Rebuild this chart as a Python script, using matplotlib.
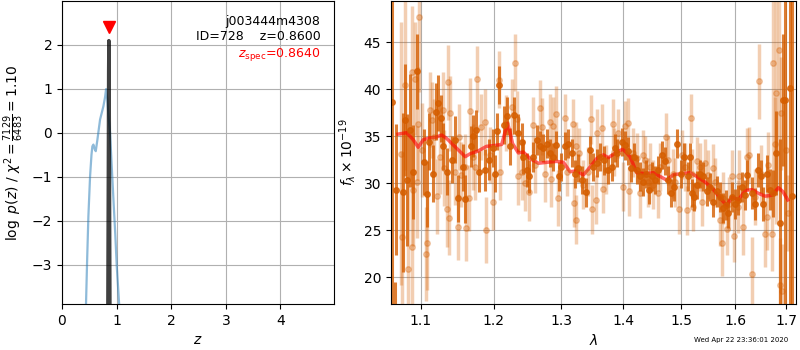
import matplotlib
matplotlib.use('Agg')
import matplotlib.pyplot as plt
from matplotlib.ticker import NullLocator
import numpy as np

# redshift probability curves
z_grid = [0.43, 0.44, 0.46, 0.483, 0.514, 0.54, 0.556, 0.575, 0.60, 0.618, 0.648,
          0.697, 0.758, 0.79, 0.807, 0.83, 0.85, 0.88, 0.91, 0.942, 0.975, 1.003, 1.046, 1.06]
logpz = [-4.5, -3.87, -2.9, -1.9, -0.99, -0.5, -0.31, -0.27, -0.38, -0.42, -0.16,
         0.30, 0.60, 0.82, 0.99, 0.75, 0.40, 0.0, -0.75, -1.52, -2.3, -3.04, -3.89, -4.3]
z_fine = [0.838, 0.848, 0.854, 0.8585, 0.863, 0.869, 0.879]
logpz_fine = [-4.5, -1.0, 1.4, 2.09, 1.4, -1.0, -4.5]
z_spec = 0.864
z_best = 0.86

# 1D spectrum, two sets of points
wave_dark = [1.0625, 1.0660, 1.0676, 1.0762, 1.0792, 1.0814, 1.0857, 1.0900, 1.0952, 1.1040,
             1.1083, 1.1110, 1.1155, 1.1195, 1.1230, 1.1265, 1.1296, 1.1342, 1.1410, 1.1455,
             1.1492, 1.1561, 1.1597, 1.1676, 1.1700, 1.1746, 1.1792, 1.1873, 1.1934, 1.1992,
             1.2016, 1.2045, 1.2078, 1.2142, 1.2190, 1.2233, 1.2292, 1.2355, 1.2405, 1.2428,
             1.2478, 1.2517, 1.2578, 1.2629, 1.2679, 1.2729, 1.2781, 1.2830, 1.2881, 1.2922,
             1.2974, 1.2996, 1.3063, 1.3115, 1.3168, 1.3220, 1.3272, 1.3326, 1.3394, 1.3458,
             1.3511, 1.3565, 1.3619, 1.3684, 1.3754, 1.3810, 1.3865, 1.3903, 1.3976, 1.4031,
             1.4086, 1.4126, 1.4182, 1.4228, 1.4283, 1.4330, 1.4387, 1.4444, 1.4486, 1.4543,
             1.4601, 1.4660, 1.4718, 1.4777, 1.4824, 1.4877, 1.4936, 1.4995, 1.5060, 1.5132,
             1.5170, 1.5200, 1.5235, 1.5295, 1.5345, 1.5406, 1.5468, 1.5530, 1.5592, 1.5655,
             1.5716, 1.5779, 1.5830, 1.5873, 1.5937, 1.6000, 1.6063, 1.6128, 1.6192, 1.6237,
             1.6322, 1.6387, 1.6451, 1.6498, 1.6550, 1.6628, 1.6682, 1.6748, 1.6802, 1.6880,
             1.6930, 1.6985, 1.7087, 1.7125]
flux_dark = [38.6, 14.0, 29.3, 29.0, 36.7, 30.3, 35.6, 31.2, 41.9, 32.2,
             28.8, 34.4, 31.0, 37.6, 38.5, 36.9, 33.9, 31.2, 32.5, 34.6,
             28.4, 31.7, 28.3, 33.9, 35.0, 35.6, 31.2, 31.4, 32.5, 33.7,
             31.0, 35.5, 40.4, 36.2, 37.1, 33.9, 37.2, 35.3, 34.4, 32.8,
             31.4, 30.7, 32.8, 34.6, 33.9, 33.7, 34.2, 33.2, 32.8, 34.0,
             30.7, 31.7, 33.9, 34.2, 33.2, 31.0, 31.6, 30.3, 29.0, 33.5,
             31.7, 32.1, 32.8, 32.4, 31.4, 31.7, 33.7, 33.2, 34.4, 34.0,
             33.4, 31.6, 32.8, 31.4, 30.7, 30.1, 31.0, 29.3, 30.7, 30.3,
             31.4, 33.0, 32.3, 30.3, 28.9, 29.6, 34.2, 31.0, 32.8, 30.7,
             32.8, 28.9, 28.5, 29.8, 31.0, 30.7, 29.1, 29.6, 28.0, 29.1,
             28.5, 27.3, 27.7, 26.8, 28.5, 27.8, 28.2, 29.6, 28.7, 30.9,
             28.9, 27.8, 31.4, 30.7, 27.8, 31.0, 29.3, 28.9, 33.2, 25.7,
             38.8, 38.8, 40.1, 28.6]
err_dark = [25.0, 5.5, 7.0, 8.5, 6.0, 7.0, 6.0, 5.0, 4.0, 3.5,
            3.5, 3.0, 3.0, 3.0, 3.0, 2.5, 2.5, 2.5, 2.5, 2.5,
            2.5, 2.5, 2.5, 2.2, 2.2, 2.2, 2.2, 2.2, 2.2, 2.0,
            2.0, 2.0, 2.0, 2.0, 2.0, 2.0, 2.0, 2.0, 2.0, 1.8,
            1.8, 1.8, 1.6, 1.6, 1.6, 1.5, 1.5, 1.5, 1.5, 1.5,
            1.5, 1.5, 1.5, 1.5, 1.5, 1.5, 1.5, 1.5, 1.5, 1.5,
            1.5, 1.5, 1.5, 1.5, 1.5, 1.5, 1.5, 1.5, 1.5, 1.5,
            1.5, 1.5, 1.5, 1.5, 1.5, 1.5, 1.5, 1.5, 1.5, 1.5,
            1.5, 1.5, 1.5, 1.5, 1.5, 1.5, 1.5, 1.5, 1.5, 1.5,
            1.5, 1.5, 1.5, 1.5, 1.5, 1.5, 1.5, 1.5, 1.6, 1.6,
            1.6, 1.6, 1.6, 1.6, 1.6, 1.6, 1.6, 1.6, 1.6, 1.6,
            1.7, 1.7, 1.8, 1.8, 1.8, 2.0, 2.2, 2.5, 4.5, 9.0,
            7.0, 22.0, 30.0, 28.0]

wave_light = [1.0740, 1.0752, 1.0792, 1.0835, 1.0879, 1.0887, 1.0900, 1.0922, 1.0944, 1.0965,
              1.0977, 1.1009, 1.1061, 1.1083, 1.1119, 1.1141, 1.1172, 1.1208, 1.1252, 1.1296,
              1.1310, 1.1342, 1.1364, 1.1378, 1.1387, 1.1455, 1.1500, 1.1513, 1.1536, 1.1597,
              1.1614, 1.1650, 1.1660, 1.1709, 1.1733, 1.1761, 1.1823, 1.1872, 1.1888, 1.1944,
              1.1982, 1.2078, 1.2088, 1.2175, 1.2258, 1.2308, 1.2331, 1.2355, 1.2405, 1.2453,
              1.2517, 1.2570, 1.2604, 1.2679, 1.2704, 1.2755, 1.2830, 1.2845, 1.2871, 1.2922,
              1.2958, 1.3063, 1.3099, 1.3185, 1.3200, 1.3228, 1.3242, 1.3288, 1.3342, 1.3432,
              1.3468, 1.3482, 1.3554, 1.3575, 1.3646, 1.3672, 1.3716, 1.3835, 1.3846, 1.3916,
              1.3998, 1.4031, 1.4086, 1.4103, 1.4170, 1.4228, 1.4283, 1.4330, 1.4369, 1.4426,
              1.4456, 1.4513, 1.4601, 1.4630, 1.4735, 1.4777, 1.4853, 1.4894, 1.4971, 1.5013,
              1.5072, 1.5113, 1.5182, 1.5200, 1.5223, 1.5285, 1.5345, 1.5375, 1.5437, 1.5499,
              1.5580, 1.5623, 1.5716, 1.5748, 1.5779, 1.5843, 1.5892, 1.5937, 1.5987, 1.6063,
              1.6082, 1.6160, 1.6225, 1.6276, 1.6328, 1.6387, 1.6465, 1.6504, 1.6570, 1.6617,
              1.6649, 1.6728, 1.6748, 1.6782, 1.6796, 1.6868, 1.6880, 1.6902, 1.6916, 1.7000,
              1.7039]
flux_light = [33.1, 24.3, 40.4, 20.9, 41.8, 23.2, 29.3, 41.1, 30.1, 36.3,
              47.7, 33.5, 22.4, 23.6, 37.8, 36.7, 34.9, 28.6, 32.8, 37.8,
              31.6, 27.2, 40.7, 26.3, 37.4, 31.2, 25.3, 34.9, 30.9, 31.7,
              25.2, 28.4, 37.7, 32.8, 31.7, 41.1, 36.0, 36.5, 25.0, 33.0,
              28.0, 41.0, 31.2, 36.4, 38.1, 42.8, 36.8, 30.7, 31.2, 30.0,
              29.0, 36.2, 31.9, 38.0, 36.0, 31.0, 36.5, 30.4, 36.1, 37.3,
              28.4, 36.9, 31.2, 36.3, 27.9, 33.9, 26.1, 33.2, 29.8, 31.2,
              36.8, 27.2, 28.2, 35.3, 35.8, 29.4, 31.4, 36.3, 33.3, 35.3,
              29.6, 36.1, 36.4, 29.1, 33.2, 32.7, 28.9, 33.0, 32.4, 30.1,
              31.7, 29.8, 28.9, 31.7, 34.9, 32.4, 31.0, 30.1, 27.2, 33.0,
              31.7, 27.1, 36.9, 31.0, 27.5, 32.3, 31.7, 28.0, 32.1, 30.9,
              31.6, 30.1, 26.1, 23.6, 28.4, 25.1, 27.8, 30.7, 24.4, 27.5,
              30.7, 25.3, 32.8, 33.0, 20.3, 28.5, 40.8, 31.0, 24.6, 26.4,
              31.9, 24.6, 42.8, 34.1, 39.6, 44.2, 19.2, 37.4, 18.5, 33.5,
              26.8]
err_light = [14.0, 9.0, 9.0, 9.0, 7.0, 8.0, 6.0, 6.0, 6.0, 6.0,
             8.0, 5.0, 5.0, 5.0, 4.0, 4.0, 4.0, 4.0, 4.0, 4.0,
             4.0, 4.0, 4.0, 4.0, 4.0, 3.5, 3.5, 3.5, 3.5, 3.5,
             3.5, 3.5, 3.5, 3.5, 3.5, 3.5, 3.5, 3.5, 3.5, 3.0,
             3.0, 3.0, 3.0, 3.0, 3.0, 3.0, 3.0, 3.0, 3.0, 3.0,
             3.0, 3.0, 3.0, 3.0, 3.0, 3.0, 3.0, 3.0, 3.0, 3.0,
             3.0, 2.6, 2.6, 2.6, 2.6, 2.6, 2.6, 2.6, 2.6, 2.6,
             2.6, 2.6, 2.6, 2.6, 2.6, 2.6, 2.6, 2.6, 2.6, 2.6,
             2.6, 2.6, 2.6, 2.6, 2.6, 2.6, 2.6, 2.6, 2.6, 2.6,
             2.6, 2.6, 2.6, 2.6, 2.6, 2.6, 2.6, 2.6, 2.6, 2.6,
             2.6, 2.6, 2.6, 2.6, 2.6, 2.6, 2.6, 2.6, 2.6, 2.6,
             2.6, 2.6, 2.8, 3.5, 2.8, 2.8, 2.8, 2.8, 2.8, 2.8,
             2.8, 3.0, 3.0, 3.0, 4.0, 3.0, 4.0, 3.0, 3.5, 3.5,
             3.5, 4.0, 14.0, 5.0, 14.0, 15.0, 5.0, 6.0, 5.0, 5.0,
             4.0]

# best-fit model
wave_model = [1.0702, 1.0814, 1.0900, 1.0965, 1.1030, 1.1119, 1.1208, 1.1276, 1.1342, 1.1478,
              1.1597, 1.1662, 1.1775, 1.1894, 1.2016, 1.2112, 1.2160, 1.2197, 1.2230, 1.2270,
              1.2355, 1.2428, 1.2528, 1.2654, 1.2781, 1.2933, 1.3037, 1.3141, 1.3246, 1.3350,
              1.3458, 1.3565, 1.3672, 1.3754, 1.3893, 1.3998, 1.4115, 1.4228, 1.4369, 1.4513,
              1.4630, 1.4748, 1.4865, 1.5042, 1.5163, 1.5285, 1.5437, 1.5592, 1.5716, 1.5843,
              1.5937, 1.6063, 1.6192, 1.6322, 1.6451, 1.6583, 1.6715, 1.6848, 1.6935, 1.7037]
flux_model = [35.2, 35.35, 34.6, 33.8, 34.6, 34.8, 34.9, 35.1, 34.75, 33.7,
              32.8, 33.1, 33.4, 33.9, 34.0, 34.1, 35.4, 36.35, 35.5, 34.2,
              33.2, 33.3, 32.6, 32.1, 32.2, 32.3, 32.2, 31.2, 31.3, 30.85,
              31.7, 32.6, 33.0, 32.7, 33.3, 33.6, 32.8, 31.1, 31.0, 31.1,
              30.7, 30.3, 30.9, 31.0, 31.1, 30.7, 30.1, 29.3, 28.4, 27.6,
              28.5, 28.2, 29.2, 29.3, 28.9, 28.6, 28.7, 29.5, 29.1, 28.2]

spec_color = (0.835, 0.369, 0.0)

fig = plt.figure(figsize=(8, 3.5), dpi=100)
ax1 = fig.add_axes([0.0775, 0.1314, 0.34, 0.8657])
ax2 = fig.add_axes([0.4887, 0.1314, 0.5063, 0.8657])

# p(z) panel
ax1.plot(z_grid, logpz, color='tab:blue', alpha=0.5, lw=1.6)
ax1.plot(z_fine, logpz_fine, color='k', alpha=0.75, lw=2.5)
ax1.plot(z_spec, 2.39, 'v', color='r', ms=8)
ax1.text(0.95, 0.955, 'j003444m4308\nID=728    z={0:.4f}'.format(z_best),
         ha='right', va='top', fontsize=9, transform=ax1.transAxes, linespacing=1.25)
ax1.text(0.95, 0.822, r'$z_\mathrm{spec}$=' + '{0:.4f}'.format(z_spec),
         ha='right', va='center', fontsize=9, color='r', transform=ax1.transAxes)
ax1.set_xlim(0, 4.98)
ax1.set_ylim(-3.89, 2.99)
ax1.set_xticks([0, 1, 2, 3, 4])
ax1.set_yticks([-3, -2, -1, 0, 1, 2])
ax1.set_xlabel(r'$z$')
ax1.set_ylabel(r'$\log\ p(z)$ / $\chi^2=\frac{7129}{6483}=1.10$')
ax1.grid()

# spectrum panel
ax2.errorbar(wave_light, flux_light, err_light, color=spec_color, alpha=0.3,
             marker='o', ms=4, linestyle='none', elinewidth=2.5)
ax2.errorbar(wave_dark, flux_dark, err_dark, color=spec_color, alpha=0.8,
             marker='o', ms=4, linestyle='none', elinewidth=2.2)
ax2.plot(wave_model, flux_model, color='r', alpha=0.6, lw=2.5)
ax2.set_xscale('log')
ax2.set_xlim(1.0614, 1.7204)
ax2.set_ylim(17.13, 49.36)
ticks = [1.1, 1.2, 1.3, 1.4, 1.5, 1.6, 1.7]
ax2.set_xticks(ticks)
ax2.set_xticklabels(['{0:.1f}'.format(t) for t in ticks])
ax2.xaxis.set_minor_locator(NullLocator())
ax2.set_yticks([20, 25, 30, 35, 40, 45])
ax2.set_xlabel(r'$\lambda$')
ax2.set_ylabel(r'$f_\lambda\times10^{-19}$')
ax2.grid()

fig.text(0.985, 0.029, 'Wed Apr 22 23:36:01 2020', ha='right', va='center', fontsize=5)

fig.savefig('out.png', dpi=100)
